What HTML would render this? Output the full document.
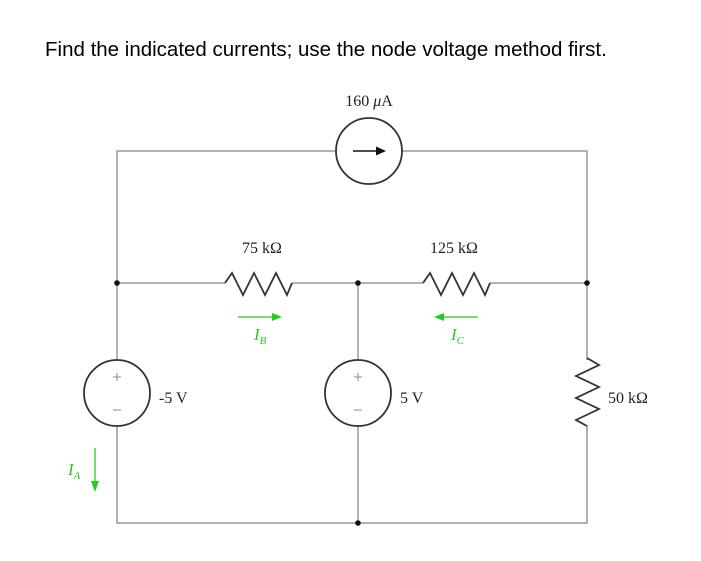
<!DOCTYPE html>
<html><head><style>
html,body{margin:0;padding:0;background:#fff;}
svg{display:block;}
</style></head><body>
<svg width="701" height="561" xmlns="http://www.w3.org/2000/svg">
<text x="45" y="56" font-family="Liberation Sans, sans-serif" font-size="20.5" fill="#000">Find the indicated currents; use the node voltage method first.</text>
<g stroke="#999" stroke-width="1.5" fill="none">
<path d="M117 360 V151 H336 M402 151 H587 V360 M587 425 V523 H117 V426"/>
<path d="M117 283 H225 M292 283 H423 M490 283 H587"/>
<path d="M358 283 V360 M358 426 V523"/>
</g>
<g stroke="#333" stroke-width="1.8" fill="none">
<circle cx="369" cy="151" r="33"/>
<circle cx="117" cy="393" r="33"/>
<circle cx="358" cy="393" r="33"/>
<path d="M225 283 L232 273 L243 295 L254 273 L265 295 L276 273 L287 295 L292 283"/>
<path d="M423 283 L430 273 L441 295 L452 273 L463 295 L474 273 L485 295 L490 283"/>
<path d="M587 358 L599 365 L576 376 L599 387 L576 398 L599 409 L576 420 L587 426"/>
<path d="M353 151 H378"/>
</g>
<polygon points="386,151 376,146.5 376,155.5" fill="#111"/>
<g stroke="#888" stroke-width="1" fill="none">
<path d="M113 377 H121 M117 373 V381 M113 410 H121 M354 377 H362 M358 373 V381 M354 410 H362"/>
</g>
<g fill="#111">
<circle cx="117" cy="283" r="2.8"/><circle cx="358" cy="283" r="2.8"/><circle cx="587" cy="283" r="2.8"/><circle cx="358" cy="523" r="2.8"/>
</g>
<g font-family="Liberation Serif, serif" font-size="16" fill="#222">
<text x="369" y="106" text-anchor="middle">160 <tspan font-style="italic">μ</tspan>A</text>
<text x="262" y="253" text-anchor="middle">75 kΩ</text>
<text x="454" y="253" text-anchor="middle">125 kΩ</text>
<text x="159" y="403">-5 V</text>
<text x="400" y="403">5 V</text>
<text x="608" y="403">50 kΩ</text>
</g>
<g stroke="#2c2" stroke-width="1.3" fill="#2c2">
<path d="M238 317 H274"/><polygon points="282,317 272,313 272,321" stroke="none"/>
<path d="M478 317 H442"/><polygon points="434,317 444,313 444,321" stroke="none"/>
<path d="M95 448 V482"/><polygon points="95,492 91,481 99,481" stroke="none"/>
</g>
<g font-family="Liberation Serif, serif" font-style="italic" fill="#2c2">
<text x="254" y="340" font-size="17">I<tspan font-size="11" dy="4">B</tspan></text>
<text x="451" y="340" font-size="17">I<tspan font-size="11" dy="4">C</tspan></text>
<text x="68" y="475" font-size="17">I<tspan font-size="11" dy="4">A</tspan></text>
</g>
</svg>
</body></html>
